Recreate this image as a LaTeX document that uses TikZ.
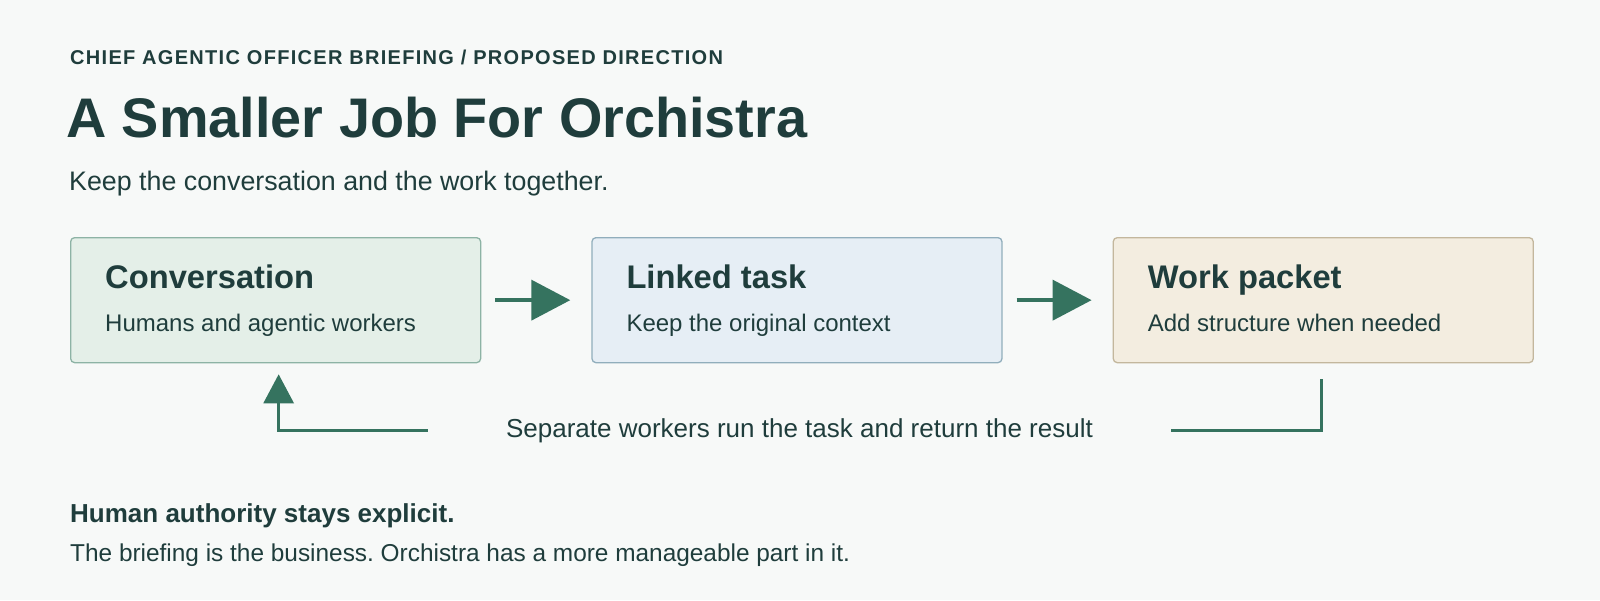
\documentclass[tikz,border=0pt]{standalone}
\usepackage{fontspec}
\setmainfont{Liberation Sans}
\newfontfamily\kickerfont[LetterSpace=6.5]{Liberation Sans}
\usepackage{xcolor}
\usetikzlibrary{positioning,arrows.meta}
\frenchspacing
\definecolor{paper}{HTML}{F7F9F8}
\definecolor{ink}{HTML}{1F3D3C}
\definecolor{flowgreen}{HTML}{35735F}
\definecolor{convfill}{HTML}{E4EFE8}
\definecolor{convline}{HTML}{8DB3A5}
\definecolor{taskfill}{HTML}{E6EEF5}
\definecolor{taskline}{HTML}{91AEBC}
\definecolor{workfill}{HTML}{F3EDE0}
\definecolor{workline}{HTML}{C3B79D}
\tikzstyle{card}=[
    rounded corners = 4pt,
    line width = 1.3pt,
    minimum width = 410pt,
    minimum height = 125pt,
    inner sep = 0pt
]
\tikzstyle{green card}=[card, draw = convline, fill = convfill]
\tikzstyle{blue card}=[card, draw = taskline, fill = taskfill]
\tikzstyle{sand card}=[card, draw = workline, fill = workfill, minimum width = 420pt]

\begin{document}
\begin{tikzpicture}[x=1pt, y=-1pt,
        ink/.style = {text = ink, inner sep = 0pt, anchor = base west},
        card title/.style = {ink, font = \fontsize{32.7pt}{39pt}\selectfont\bfseries},
        card text/.style = {ink, font = \fontsize{24pt}{29pt}\selectfont},
        flow/.style = {draw = flowgreen, line width = 4pt, shorten <= 14pt, shorten >= 21pt,
            -{Triangle[length=39pt, width=40pt]}},
        back/.style = {draw = flowgreen, line width = 3pt}]
        \useasboundingbox[fill = paper] (0,0) rectangle (1600,600);

        % heading
        \node[ink, font = \fontsize{20pt}{24pt}\kickerfont\bfseries] (kicker) at (70,64.3) {CHIEF AGENTIC OFFICER BRIEFING / PROPOSED DIRECTION};
        \node[ink, font = \fontsize{55.8pt}{66pt}\selectfont\bfseries] (title) at (66,137.5) {A Smaller Job For Orchistra};
        \node[ink, font = \fontsize{26.8pt}{32pt}\selectfont] (lead) at (69,190.7) {Keep the conversation and the work together.};

        % the three cards
        \node[green card, anchor = north west] (conv) at (70,237) {};
        \node[blue card] (task) [right = 110pt of conv] {};
        \node[sand card] (work) [right = 110pt of task] {};

        \node[card title] (conv title) at ([xshift=35pt, yshift=-51.3pt]conv.north west) {Conversation};
        \node[card text] (conv text) at ([xshift=35pt, yshift=-94.5pt]conv.north west) {Humans and agentic workers};
        \node[card title] (task title) at ([xshift=35pt, yshift=-51.3pt]task.north west) {Linked task};
        \node[card text] (task text) at ([xshift=35pt, yshift=-94.5pt]task.north west) {Keep the original context};
        \node[card title] (work title) at ([xshift=35pt, yshift=-51.3pt]work.north west) {Work packet};
        \node[card text] (work text) at ([xshift=35pt, yshift=-94.5pt]work.north west) {Add structure when needed};

        \draw[flow] (conv) -- (task);
        \draw[flow] (task) -- (work);

        % return loop
        \node[text = ink, font = \fontsize{26pt}{31pt}\selectfont, inner xsep = 78pt, inner ysep = 0pt, anchor = base] (ret) at (799.5,437) {Separate workers run the task and return the result};
        \draw[back, shorten <= 16pt] ([xshift=-2pt]work.south) |- (ret.east);
        \draw[back, shorten >= 11pt, -{Triangle[length=29pt, width=30pt]}] (ret.west) -| ([xshift=3pt]conv.south);

        % closing note
        \node[ink, font = \fontsize{26pt}{31pt}\selectfont\bfseries] (note) at (70,522.3) {Human authority stays explicit.};
        \node[ink, font = \fontsize{24.4pt}{29pt}\selectfont] (note text) at (70,561.7) {The briefing is the business. Orchistra has a more manageable part in it.};

    \end{tikzpicture}
\end{document}
